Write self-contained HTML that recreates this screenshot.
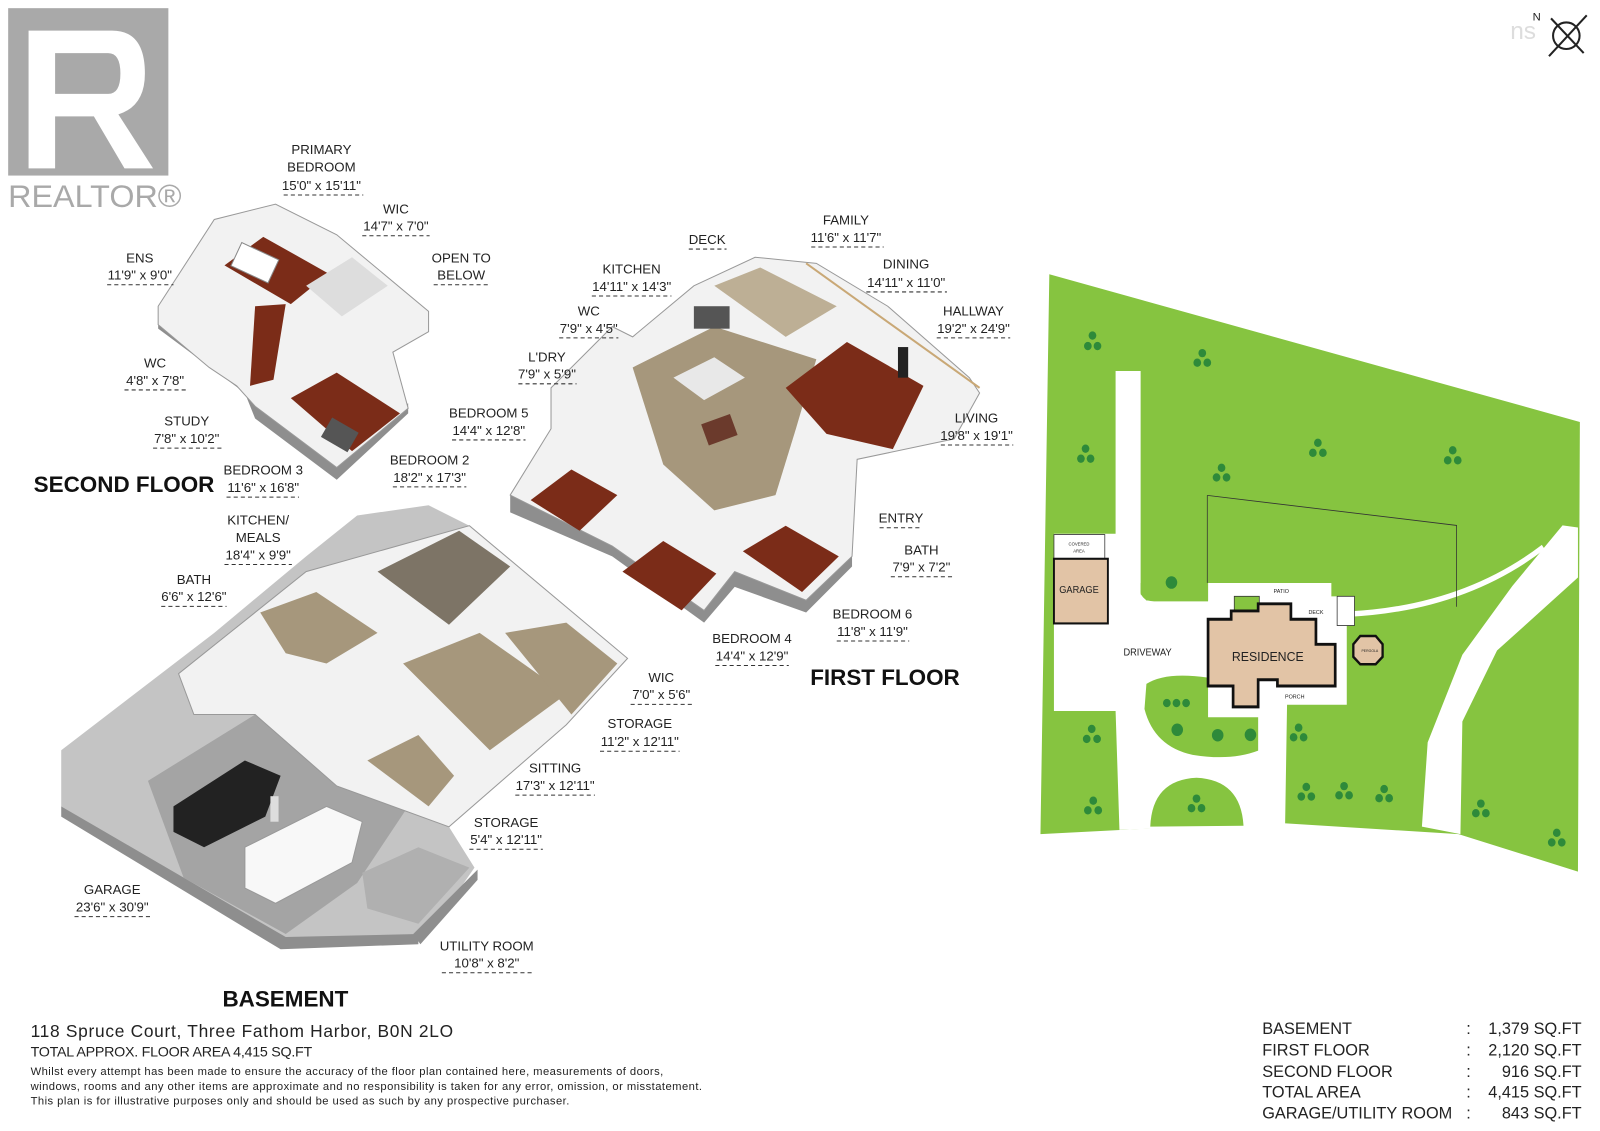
<!DOCTYPE html>
<html><head><meta charset="utf-8"><style>
html,body{margin:0;padding:0;background:#fff;}
svg{display:block;}
.l{font-family:"Liberation Sans Narrow","Liberation Sans",sans-serif;font-size:13px;fill:#222;text-anchor:middle;}
.d{stroke:#333;stroke-width:1;stroke-dasharray:4 3;fill:none;}
.h{font-family:"Liberation Sans",sans-serif;font-weight:bold;font-size:22px;fill:#111;}
.w{fill:#f2f2f2;stroke:#999;stroke-width:1;}
.r{fill:#7b2c18;}
.t{fill:#a6977c;}
.g{fill:#8e8e8e;}
.s{font-family:"Liberation Sans",sans-serif;fill:#222;}
</style></head><body>
<svg width="1600" height="1131" viewBox="0 0 1568 1108" preserveAspectRatio="none" xmlns="http://www.w3.org/2000/svg">
<rect width="1568" height="1108" fill="#fff"/>
<!-- REALTOR logo -->
<rect x="8" y="8" width="157" height="164" fill="#a9a9a9"/>
<path d="M28 30 H110 Q142 30 142 72 Q142 104 116 112 L150 165 H122 L92 114 H54 V165 H28 Z M54 52 V92 H106 Q118 92 118 72 Q118 52 106 52 Z" fill="#fff"/>
<text x="8" y="203" font-family="Liberation Sans,sans-serif" font-size="31" fill="#a9a9a9" textLength="170" lengthAdjust="spacingAndGlyphs">REALTOR®</text>
<!-- compass -->
<text x="1480" y="38" font-family="Liberation Sans,sans-serif" font-size="24" fill="#ddd">ns</text>
<circle cx="1535" cy="35" r="13" fill="none" stroke="#222" stroke-width="2"/>
<line x1="1518" y1="55" x2="1555" y2="15" stroke="#222" stroke-width="2"/>
<line x1="1520" y1="18" x2="1552" y2="52" stroke="#222" stroke-width="2"/>
<text x="1502" y="20" font-family="Liberation Sans,sans-serif" font-size="11" fill="#222">N</text>

<!-- SECOND FLOOR plan -->
<polygon class="g" points="155,305 155,322 240,385 250,410 330,470 400,405 400,395 330,455 250,395 240,370"/>
<polygon class="w" points="155,300 210,215 270,200 330,230 420,305 420,325 385,345 400,400 330,458 250,398 232,378 205,360 155,318"/>
<polygon class="r" points="220,260 258,232 322,268 285,298"/>
<polygon class="r" points="250,300 280,298 268,372 245,378"/>
<polygon class="r" points="285,390 330,365 392,405 345,442"/>
<polygon fill="#ddd" points="300,280 345,252 380,280 335,310"/>
<rect x="230" y="245" width="40" height="25" fill="#fff" stroke="#888" transform="rotate(25 250 257)"/>
<rect x="318" y="415" width="30" height="22" fill="#555" transform="rotate(30 333 426)"/>

<!-- FIRST FLOOR plan -->
<polygon class="g" points="500,485 500,502 600,545 690,610 720,575 790,600 835,555 835,545 790,588 720,560 690,598 600,535"/>
<polygon class="w" points="500,485 540,420 540,380 600,320 620,330 680,280 740,252 800,258 870,300 950,370 960,385 935,430 840,450 835,545 790,588 720,560 690,598 600,535"/>
<polygon fill="#bdaf95" points="700,280 745,262 820,300 770,330"/>
<polygon class="t" points="620,360 700,320 800,352 780,420 760,485 700,500 650,455"/>
<polygon class="r" points="770,380 830,335 905,378 875,440 810,425"/>
<polygon class="r" points="520,490 560,460 605,485 568,520"/>
<polygon class="r" points="610,560 650,530 702,562 668,598"/>
<polygon class="r" points="728,540 770,515 822,545 786,580"/>
<polygon fill="#e8e8e8" points="660,370 700,350 730,370 690,392"/>
<rect x="690" y="410" width="30" height="22" fill="#6b3a2c" transform="rotate(-20 705 421)"/>
<rect x="880" y="340" width="10" height="30" fill="#222"/>
<rect x="680" y="300" width="35" height="22" fill="#555"/>
<line x1="790" y1="258" x2="960" y2="380" stroke="#c9a876" stroke-width="2"/>

<!-- BASEMENT plan -->
<polygon fill="#c4c4c4" points="60,735 210,620 300,545 350,505 420,495 460,515 615,645 555,710 440,810 465,850 420,915 280,920 60,790"/>
<polygon class="g" points="60,790 60,800 275,930 410,925 410,915 280,918"/>
<polygon class="g" points="405,915 468,852 468,862 412,925"/>
<polygon fill="#a4a4a4" points="145,765 250,700 400,790 350,865 280,915 180,860"/>
<polygon class="w" points="175,660 300,560 460,515 615,645 555,710 440,810 330,770 250,700 190,700"/>
<polygon class="t" points="255,600 310,580 370,620 320,650 280,640"/>
<polygon fill="#7d7466" points="370,560 450,520 500,555 440,612"/>
<polygon class="t" points="395,650 470,620 555,680 480,735"/>
<polygon class="t" points="495,620 555,610 605,650 560,700"/>
<polygon class="t" points="360,745 410,720 445,760 420,790"/>
<polygon fill="#b0b0b0" points="355,855 410,830 460,850 410,905 360,890"/>
<path d="M170 790 L240 745 L275 760 L260 800 L200 830 L170 815 Z" fill="#222"/>
<path d="M240 830 L320 790 L355 805 L345 845 L270 885 L240 870 Z" fill="#f8f8f8" stroke="#999"/>
<rect x="265" y="780" width="8" height="25" fill="#ddd"/>

<!-- labels -->
<g class="l">
<text x="315" y="151">PRIMARY</text><text x="315" y="168">BEDROOM</text><text x="315" y="186">15'0" x 15'11"</text><line class="d" x1="278" y1="191" x2="356" y2="191"/>
<text x="388" y="209">WIC</text><text x="388" y="226">14'7" x 7'0"</text><line class="d" x1="355" y1="231" x2="421" y2="231"/>
<text x="137" y="257">ENS</text><text x="137" y="274">11'9" x 9'0"</text><line class="d" x1="105" y1="279" x2="170" y2="279"/>
<text x="452" y="257">OPEN TO</text><text x="452" y="274">BELOW</text><line class="d" x1="425" y1="279" x2="478" y2="279"/>
<text x="152" y="360">WC</text><text x="152" y="377">4'8" x 7'8"</text><line class="d" x1="122" y1="382" x2="183" y2="382"/>
<text x="183" y="417">STUDY</text><text x="183" y="434">7'8" x 10'2"</text><line class="d" x1="150" y1="439" x2="217" y2="439"/>
<text x="258" y="465">BEDROOM 3</text><text x="258" y="482">11'6" x 16'8"</text><line class="d" x1="222" y1="487" x2="293" y2="487"/>
<text x="693" y="239">DECK</text><line class="d" x1="675" y1="244" x2="712" y2="244"/>
<text x="829" y="220">FAMILY</text><text x="829" y="237">11'6" x 11'7"</text><line class="d" x1="795" y1="242" x2="866" y2="242"/>
<text x="619" y="268">KITCHEN</text><text x="619" y="285">14'11" x 14'3"</text><line class="d" x1="580" y1="290" x2="658" y2="290"/>
<text x="888" y="263">DINING</text><text x="888" y="281">14'11" x 11'0"</text><line class="d" x1="849" y1="286" x2="928" y2="286"/>
<text x="577" y="309">WC</text><text x="577" y="326">7'9" x 4'5"</text><line class="d" x1="548" y1="331" x2="606" y2="331"/>
<text x="954" y="309">HALLWAY</text><text x="954" y="326">19'2" x 24'9"</text><line class="d" x1="918" y1="331" x2="990" y2="331"/>
<text x="536" y="354">L'DRY</text><text x="536" y="371">7'9" x 5'9"</text><line class="d" x1="508" y1="376" x2="565" y2="376"/>
<text x="479" y="409">BEDROOM 5</text><text x="479" y="426">14'4" x 12'8"</text><line class="d" x1="443" y1="431" x2="515" y2="431"/>
<text x="957" y="414">LIVING</text><text x="957" y="431">19'8" x 19'1"</text><line class="d" x1="922" y1="436" x2="993" y2="436"/>
<text x="421" y="455">BEDROOM 2</text><text x="421" y="472">18'2" x 17'3"</text><line class="d" x1="385" y1="477" x2="457" y2="477"/>
<text x="883" y="512">ENTRY</text><line class="d" x1="862" y1="517" x2="904" y2="517"/>
<text x="903" y="543">BATH</text><text x="903" y="560">7'9" x 7'2"</text><line class="d" x1="873" y1="565" x2="934" y2="565"/>
<text x="855" y="606">BEDROOM 6</text><text x="855" y="623">11'8" x 11'9"</text><line class="d" x1="820" y1="628" x2="891" y2="628"/>
<text x="737" y="630">BEDROOM 4</text><text x="737" y="647">14'4" x 12'9"</text><line class="d" x1="701" y1="652" x2="773" y2="652"/>
<text x="253" y="514">KITCHEN/</text><text x="253" y="531">MEALS</text><text x="253" y="548">18'4" x 9'9"</text><line class="d" x1="220" y1="553" x2="286" y2="553"/>
<text x="190" y="572">BATH</text><text x="190" y="589">6'6" x 12'6"</text><line class="d" x1="158" y1="594" x2="222" y2="594"/>
<text x="648" y="668">WIC</text><text x="648" y="685">7'0" x 5'6"</text><line class="d" x1="618" y1="690" x2="678" y2="690"/>
<text x="627" y="713">STORAGE</text><text x="627" y="731">11'2" x 12'11"</text><line class="d" x1="588" y1="736" x2="666" y2="736"/>
<text x="544" y="757">SITTING</text><text x="544" y="774">17'3" x 12'11"</text><line class="d" x1="505" y1="779" x2="583" y2="779"/>
<text x="496" y="810">STORAGE</text><text x="496" y="827">5'4" x 12'11"</text><line class="d" x1="460" y1="832" x2="532" y2="832"/>
<text x="110" y="876">GARAGE</text><text x="110" y="893">23'6" x 30'9"</text><line class="d" x1="73" y1="898" x2="147" y2="898"/>
<text x="477" y="931">UTILITY ROOM</text><text x="477" y="948">10'8" x 8'2"</text><line class="d" x1="433" y1="953" x2="521" y2="953"/>
</g>
<text class="h" x="33" y="482">SECOND FLOOR</text>
<text class="h" x="794" y="671">FIRST FLOOR</text>
<text class="h" x="218" y="986">BASEMENT</text>

<!-- footer -->
<text class="s" x="30" y="1016" font-size="17" textLength="414">118 Spruce Court, Three Fathom Harbor, B0N 2LO</text>
<text class="s" x="30" y="1035" font-size="14" textLength="276">TOTAL APPROX. FLOOR AREA 4,415 SQ.FT</text>
<text class="s" x="30" y="1053" font-size="11" textLength="620">Whilst every attempt has been made to ensure the accuracy of the floor plan contained here, measurements of doors,</text>
<text class="s" x="30" y="1068" font-size="11" textLength="658">windows, rooms and any other items are approximate and no responsibility is taken for any error, omission, or misstatement.</text>
<text class="s" x="30" y="1082" font-size="11" textLength="528">This plan is for illustrative purposes only and should be used as such by any prospective purchaser.</text>
<g class="s" font-size="16">
<text x="1237" y="1013">BASEMENT</text><text x="1237" y="1034">FIRST FLOOR</text><text x="1237" y="1055">SECOND FLOOR</text><text x="1237" y="1075">TOTAL AREA</text><text x="1237" y="1096">GARAGE/UTILITY ROOM</text>
<text x="1437" y="1013">:</text><text x="1437" y="1034">:</text><text x="1437" y="1055">:</text><text x="1437" y="1075">:</text><text x="1437" y="1096">:</text>
<g text-anchor="end"><text x="1550" y="1013">1,379 SQ.FT</text><text x="1550" y="1034">2,120 SQ.FT</text><text x="1550" y="1055">916 SQ.FT</text><text x="1550" y="1075">4,415 SQ.FT</text><text x="1550" y="1096">843 SQ.FT</text></g>
</g>

<!-- SITE PLAN -->
<g transform="scale(0.98)"><g transform="translate(1000,250) scale(0.3853,0.417)">
<polygon fill="#86c440" points="128,58 1505,412 1500,1490 1190,1400 700,1372 105,1400"/>
<polygon fill="#fff" points="300,290 365,290 365,825 380,840 540,840 540,798 860,798 860,830 900,830 900,1090 745,1090 740,1375 310,1390 300,1105 140,1105 140,680 300,680"/>
<path d="M380 1040 Q430 1010 540 1025 L540 1120 L670 1120 L670 1200 Q600 1225 500 1210 Q400 1190 375 1100 Z" fill="#86c440"/>
<path d="M390 1382 Q395 1270 510 1265 Q625 1270 632 1380 Z" fill="#86c440"/>
<path d="M365 820 Q370 842 400 842 L540 842 L540 798 L365 798 Z" fill="#86c440"/>
<polygon fill="#fff" points="1460,660 1500,665 1500,785 1290,960 1200,1130 1195,1400 1095,1382 1110,1180 1200,970 1330,805"/>
<path d="M900 873 Q1200 860 1410 712" stroke="#fff" stroke-width="13" fill="none"/>
<polyline points="538,588 1185,660 1185,855" fill="none" stroke="#333" stroke-width="2"/>
<line x1="538" y1="588" x2="538" y2="798" stroke="#333" stroke-width="2"/>
<rect x="140" y="682" width="132" height="58" fill="#fff" stroke="#333" stroke-width="2"/>
<rect x="140" y="740" width="140" height="155" fill="#e2c4a6" stroke="#111" stroke-width="5"/>
<rect x="608" y="830" width="65" height="35" fill="#86c440" stroke="#333" stroke-width="2"/>
<polygon fill="#e2c4a6" stroke="#111" stroke-width="7" points="540,885 600,885 600,865 670,865 670,848 755,848 755,885 820,885 820,945 870,945 870,1045 720,1045 720,1030 670,1030 670,1095 605,1095 605,1045 540,1045"/>
<polygon fill="#e2c4a6" stroke="#111" stroke-width="6" points="935,925 975,925 993,945 993,975 975,993 935,993 917,975 917,945"/>
<rect x="875" y="830" width="45" height="70" fill="#fff" stroke="#333" stroke-width="2"/>
<g fill="#2e8a3a">
<circle cx="240" cy="205" r="10"/><circle cx="228" cy="230" r="10"/><circle cx="253" cy="230" r="10"/>
<circle cx="525" cy="247" r="10"/><circle cx="512" cy="270" r="10"/><circle cx="538" cy="270" r="10"/>
<circle cx="222" cy="476" r="10"/><circle cx="210" cy="500" r="10"/><circle cx="235" cy="500" r="10"/>
<circle cx="575" cy="522" r="10"/><circle cx="562" cy="545" r="10"/><circle cx="588" cy="545" r="10"/>
<circle cx="825" cy="462" r="10"/><circle cx="812" cy="486" r="10"/><circle cx="838" cy="486" r="10"/>
<circle cx="1175" cy="480" r="10"/><circle cx="1162" cy="504" r="10"/><circle cx="1188" cy="504" r="10"/>
<circle cx="238" cy="1148" r="10"/><circle cx="225" cy="1172" r="10"/><circle cx="252" cy="1172" r="10"/>
<circle cx="242" cy="1320" r="10"/><circle cx="228" cy="1343" r="10"/><circle cx="255" cy="1343" r="10"/>
<circle cx="433" cy="1086" r="10"/><circle cx="458" cy="1086" r="10"/><circle cx="483" cy="1086" r="10"/>
<circle cx="775" cy="1145" r="10"/><circle cx="762" cy="1168" r="10"/><circle cx="788" cy="1168" r="10"/>
<circle cx="795" cy="1287" r="10"/><circle cx="782" cy="1310" r="10"/><circle cx="808" cy="1310" r="10"/>
<circle cx="893" cy="1285" r="10"/><circle cx="880" cy="1307" r="10"/><circle cx="906" cy="1307" r="10"/>
<circle cx="997" cy="1292" r="10"/><circle cx="984" cy="1314" r="10"/><circle cx="1010" cy="1314" r="10"/>
<circle cx="1248" cy="1327" r="10"/><circle cx="1235" cy="1350" r="10"/><circle cx="1261" cy="1350" r="10"/>
<circle cx="1445" cy="1397" r="10"/><circle cx="1432" cy="1420" r="10"/><circle cx="1458" cy="1420" r="10"/>
<circle cx="510" cy="1315" r="10"/><circle cx="497" cy="1338" r="10"/><circle cx="523" cy="1338" r="10"/>
<circle cx="445" cy="797" r="15"/><circle cx="460" cy="1150" r="15"/><circle cx="565" cy="1163" r="15"/><circle cx="650" cy="1162" r="15"/>
</g>
<g font-family="Liberation Sans,sans-serif" fill="#222" text-anchor="middle">
<text x="205" y="822" font-size="24">GARAGE</text>
<text x="383" y="972" font-size="24">DRIVEWAY</text>
<text x="695" y="985" font-size="32">RESIDENCE</text>
<text x="730" y="822" font-size="14">PATIO</text>
<text x="820" y="872" font-size="14">DECK</text>
<text x="765" y="1075" font-size="14">PORCH</text>
<text x="205" y="708" font-size="11">COVERED</text><text x="205" y="725" font-size="11">AREA</text>
<text x="960" y="963" font-size="9">PERGOLA</text>
</g>
</g></g>
</svg>
</body></html>
